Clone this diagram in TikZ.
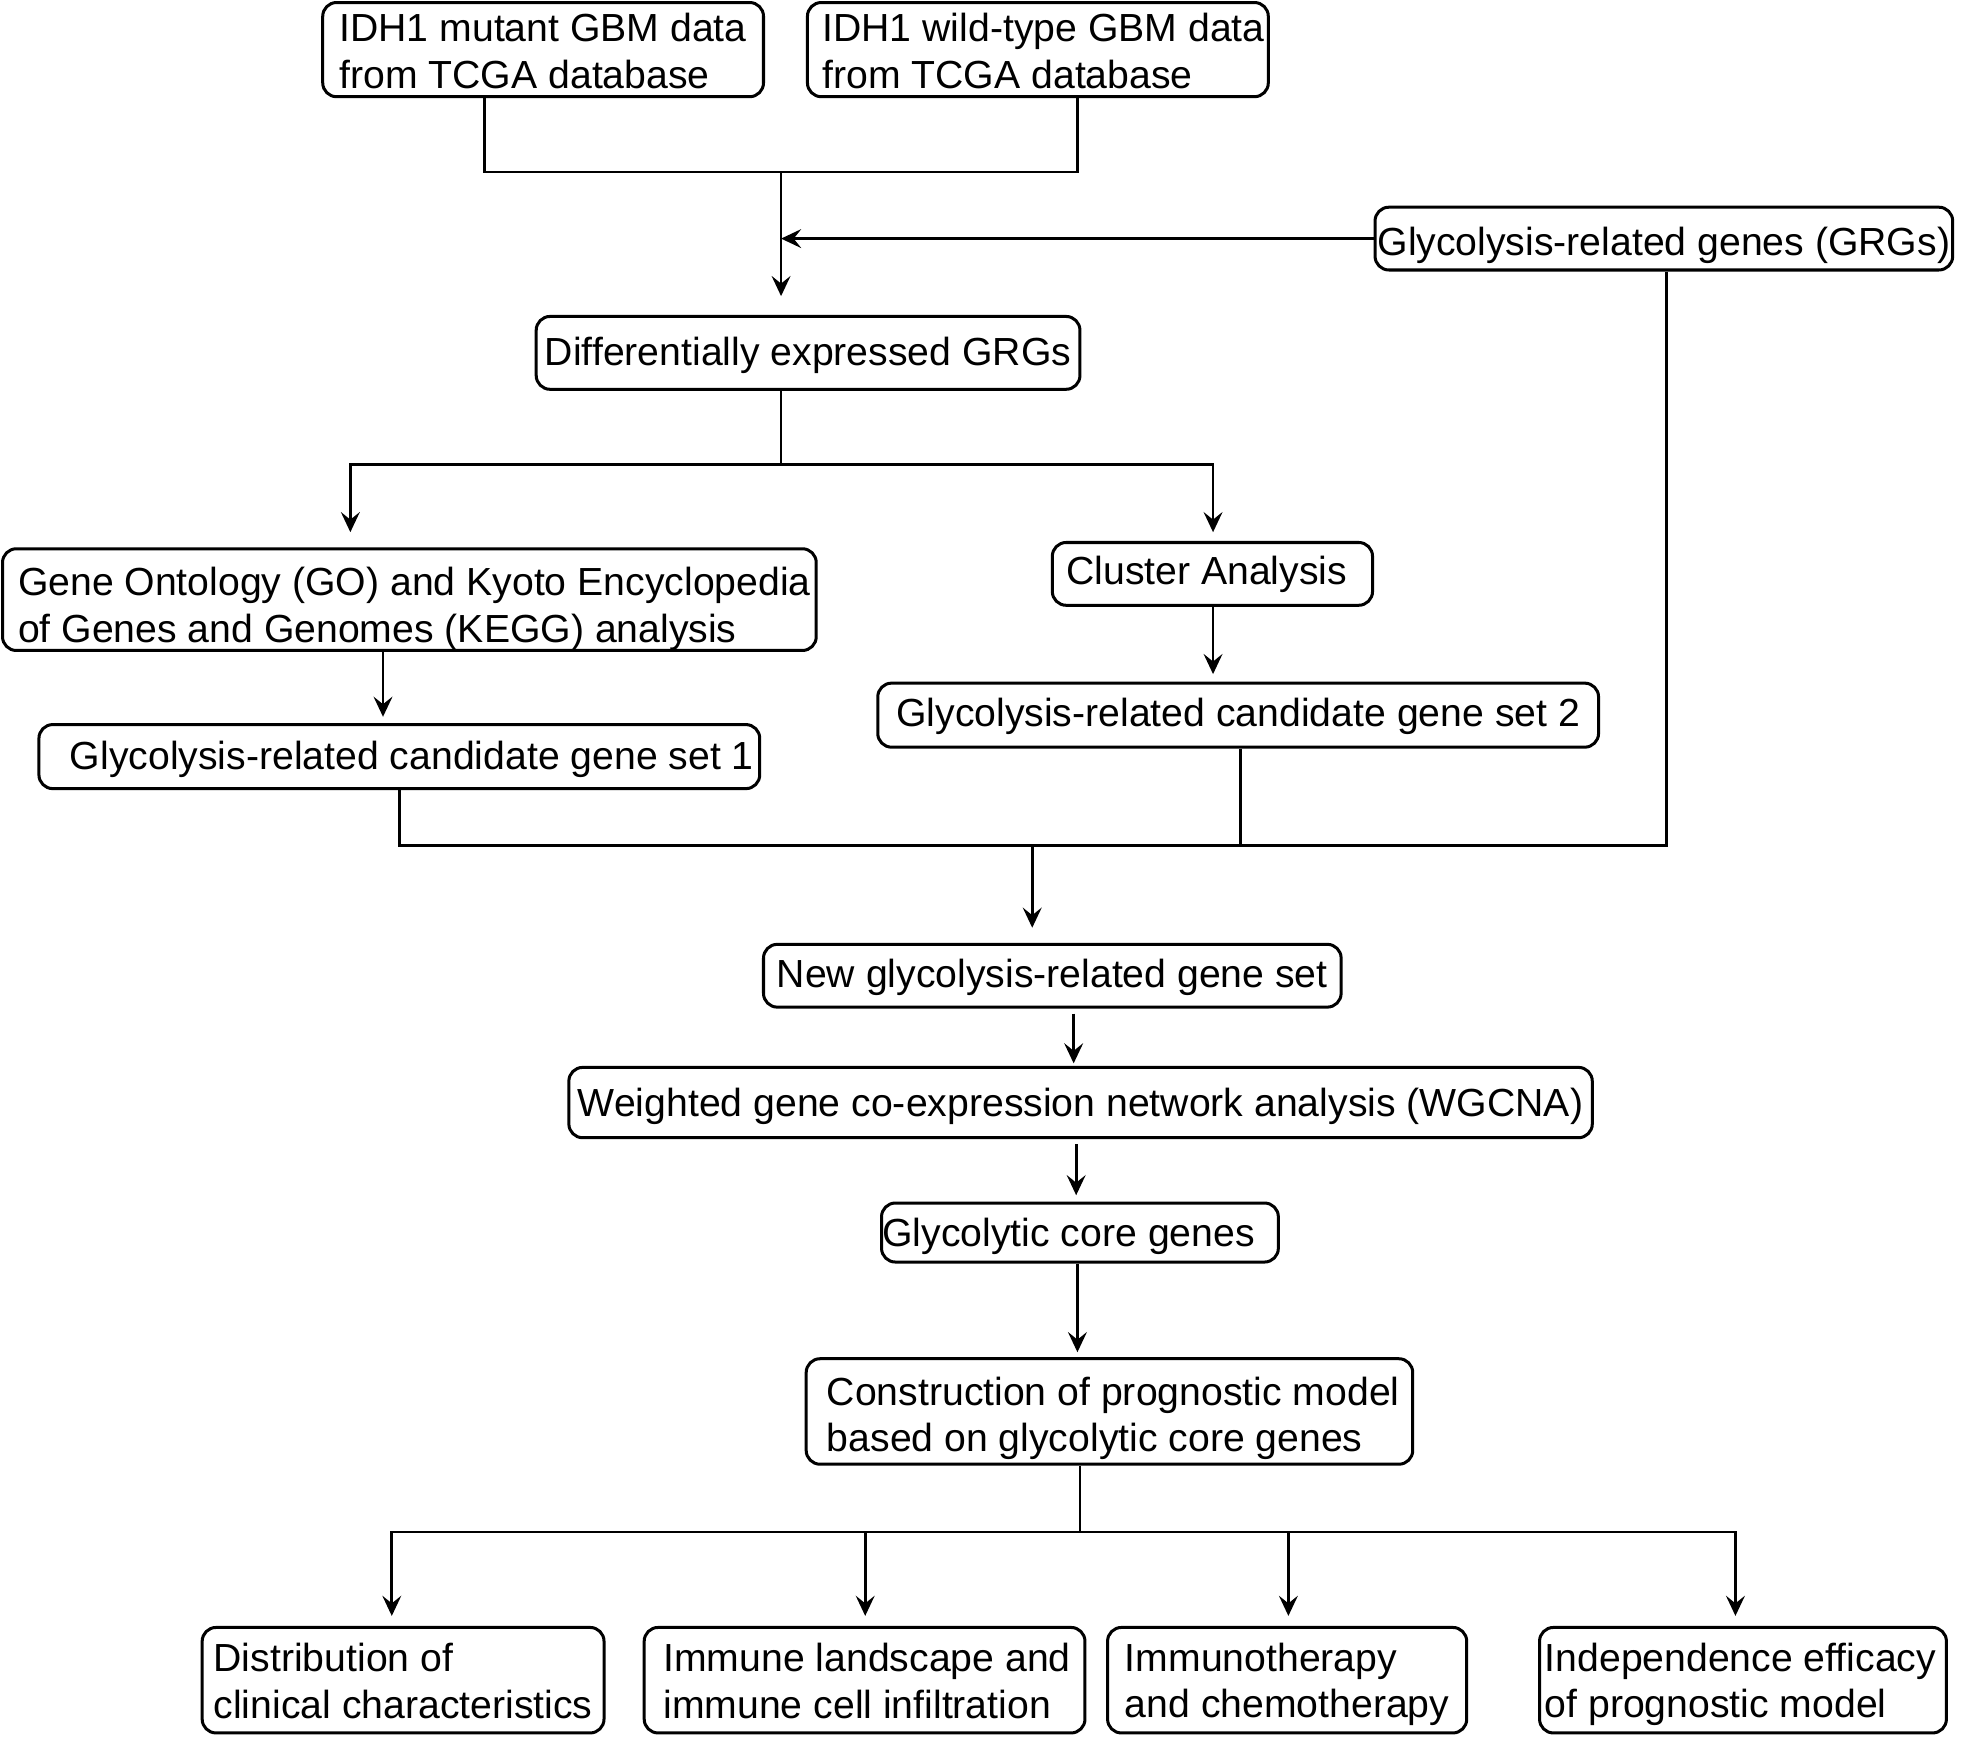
\documentclass[tikz,border=0pt]{standalone}
\usepackage{fontspec}
\setmainfont{Liberation Sans}
\usetikzlibrary{arrows.meta}
% name, x1, y1, x2, y2, lead space, trail space, text lowering, text
\newcommand{\mkbox}[9]{\node[box, minimum width={(#4-#2)*0.5pt}, minimum height={(#5-#3)*0.5pt}] (#1) at ({(#2+#4)/2},{(#3+#5)/2})
  {\hspace*{#6}\raisebox{-#8}[\height][\depth]{\begin{tabular}{@{}l@{}}#9\end{tabular}}\hspace*{#7}};}
\begin{document}
\begin{tikzpicture}[x=0.5pt,y=-0.5pt,
  box/.style={draw=black, line width=1.2pt, rounded corners=5.5pt, inner sep=0pt,
    font=\fontsize{15.6pt}{18.5pt}\selectfont, text=black},
  conn/.style={draw=black, line width=1.1pt},
  >={Stealth[length=8pt,width=7.5pt,inset=3pt]}]
\useasboundingbox (0,0) rectangle (1568,1383);
% boxes
\mkbox{A}{257}{2}{608}{77}{0pt}{0pt}{2.5pt}{IDH1 mutant GBM data\\from TCGA database}
\mkbox{B}{643}{2}{1010}{77}{4.5pt}{0pt}{2.5pt}{IDH1 wild-type GBM data\\from TCGA database}
\mkbox{GRG}{1095}{165}{1555}{215}{0pt}{0pt}{3pt}{Glycolysis-related genes (GRGs)}
\mkbox{DEG}{427}{252}{860}{310}{0pt}{0pt}{1.5pt}{Differentially expressed GRGs}
\mkbox{GO}{2}{437}{650}{518}{4pt}{0pt}{4pt}{Gene Ontology (GO) and Kyoto Encyclopedia\\of Genes and Genomes (KEGG) analysis}
\mkbox{CA}{838}{432}{1093}{482}{0pt}{4.5pt}{0.5pt}{Cluster Analysis}
\mkbox{S1}{31}{577}{605}{628}{10pt}{0pt}{1.5pt}{Glycolysis-related candidate gene set 1}
\mkbox{S2}{699}{544}{1273}{595}{0pt}{0pt}{1pt}{Glycolysis-related candidate gene set 2}
\mkbox{NEW}{608}{752}{1068}{802}{0pt}{0pt}{1pt}{New glycolysis-related gene set}
\mkbox{W}{453}{850}{1268}{906}{0pt}{0pt}{2pt}{Weighted gene co-expression network analysis (WGCNA)}
\mkbox{CORE}{702}{958}{1018}{1005}{0pt}{9pt}{2pt}{Glycolytic core genes}
\mkbox{CON}{642}{1082}{1125}{1166}{3pt}{0pt}{3pt}{Construction of prognostic model\\based on glycolytic core genes}
\mkbox{D1}{161}{1296}{481}{1380}{0pt}{0pt}{2.25pt}{Distribution of\\clinical characteristics}
\mkbox{D2}{513}{1296}{864}{1380}{2pt}{0pt}{2.25pt}{Immune landscape and\\immune cell infiltration}
\mkbox{D3}{882}{1296}{1168}{1380}{0pt}{0pt}{2pt}{Immunotherapy\\and chemotherapy}
\mkbox{D4}{1226}{1296}{1550}{1380}{0pt}{2pt}{2pt}{Independence efficacy\\of prognostic model}
% junctions
\coordinate (j1) at (622,137);
\coordinate (j2) at (622,370);
\coordinate (j3) at (822,673);
\coordinate (j4) at (860,1220);
% connectors
\draw[conn] (A.south -| 386,0) |- (j1) -| (B.south -| 858,0);
\draw[conn,->,shorten >=7.5pt] (j1) -- (DEG.north -| j1);
\draw[conn,->] (GRG.west) -- (GRG.west -| j1);
\draw[conn] (DEG.south -| j2) -- (j2);
\draw[conn,->,shorten >=6pt] (j2) -| (GO.north -| 279,0);
\draw[conn,->,shorten >=3.5pt] (j2) -| (CA.north -| 966,0);
\draw[conn,->,shorten >=2.5pt] (GO.south -| 305,0) -- (S1.north -| 305,0);
\draw[conn,->,shorten >=3pt] (CA.south -| 966,0) -- (S2.north -| 966,0);
\draw[conn] (S1.south -| 318,0) |- (j3);
\draw[conn] (S2.south -| 988,0) |- (j3);
\draw[conn] (GRG.south -| 1327,0) |- (j3);
\draw[conn,->,shorten >=6pt] (j3) -- (NEW.north -| j3);
\draw[conn,->,shorten <=2pt,shorten >=1pt] (NEW.south -| 855,0) -- (W.north -| 855,0);
\draw[conn,->,shorten <=2pt,shorten >=2.5pt] (W.south -| 857,0) -- (CORE.north -| 857,0);
\draw[conn,->,shorten >=2pt] (CORE.south -| 858,0) -- (CON.north -| 858,0);
\draw[conn] (CON.south -| j4) -- (j4);
\draw[conn,->,shorten >=4pt] (j4) -| (D1.north -| 312,0);
\draw[conn,->,shorten >=4pt] (j4) -| (D2.north -| 689,0);
\draw[conn,->,shorten >=4pt] (j4) -| (D3.north -| 1026,0);
\draw[conn,->,shorten >=4pt] (j4) -| (D4.north -| 1382,0);
\end{tikzpicture}
\end{document}
